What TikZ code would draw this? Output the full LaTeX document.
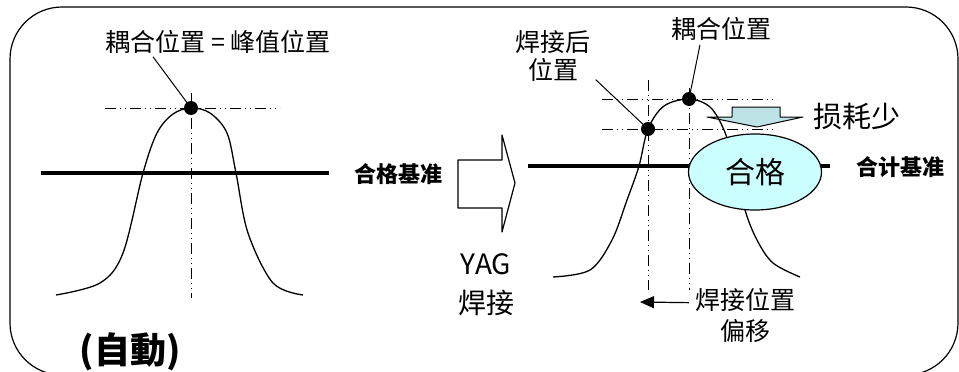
\documentclass[tikz,border=0pt]{standalone}
\usepackage{fontspec}
\setmainfont{Noto Sans CJK SC}
\usepackage{tikz}
\usetikzlibrary{arrows.meta,shapes.geometric}
\definecolor{passfill}{HTML}{CCFFFF}
\definecolor{lossfill}{HTML}{BEE3E6}

\begin{document}
\begin{tikzpicture}[x=1pt,y=-1pt,line join=round,
    dot/.style={circle,fill=black,inner sep=0pt,minimum size=14pt},
    guide/.style={line width=0.8pt,dash pattern=on 11pt off 4pt on 1pt off 4pt on 1pt off 4pt},
    leader/.style={line width=1pt},
    bar/.style={line width=4.5pt},
    curve/.style={line width=1.3pt},
    lbl/.style={inner sep=0pt,align=center,font=\fontsize{25}{28}\selectfont},
    heavy/.style={inner sep=0pt,font=\fontsize{22}{24}\selectfont\bfseries}]
  \useasboundingbox (0,0) rectangle (959,372);
  \draw[line width=1.2pt,rounded corners=52pt] (10,7) rectangle (958,375);

  % before welding
  \draw[bar] (41,173) -- (329,173);
  \draw[guide] (105,108) -- (280,108);
  \draw[guide] (191,93) -- (191,298);
  \draw[curve] plot[smooth,tension=0.55] coordinates {(56,295) (100,283) (123,253) (143,173) (157,133) (173,114) (191,108) (210,113) (227,133) (236,173) (248,233) (273,283) (303,295)};
  \node[dot] (peak_0) at (191,108) {};
  \node[lbl] (peak_lbl) at (218,42) {耦合位置 = 峰值位置};
  \draw[leader] (peak_lbl.south) ++(-65,3) coordinate (lead_0) -- (peak_0.center);
  \node[heavy] (std_0) at (398,174) {合格基准};
  \node[inner sep=0pt,font=\fontsize{36}{40}\selectfont\bfseries] (auto) at (130,352) {(自動)};

  % welding step
  \draw[line width=1.2pt] (458,160) -- (502,160) -- (502,135) -- (515,183) -- (502,232) -- (502,208) -- (458,208) -- cycle;
  \node[lbl,font=\fontsize{28}{39}\selectfont] (yag) at (486,285) {YAG\\焊接};

  % after welding
  \draw[bar] (528,166) -- (830,166);
  \draw[guide] (602,99) -- (777,99);
  \draw[guide] (602,129) -- (777,129);
  \draw[guide] (648,80) -- (648,290);
  \draw[guide] (689,88) -- (689,290);
  \draw[line width=1pt,fill=lossfill] (732,107) -- (780,107) -- (780,117) -- (803,117) -- (757,127) -- (707,117) -- (732,117) -- cycle;
  \draw[curve] plot[smooth,tension=0.55] coordinates {(553,277) (590,270) (612,240) (627,200) (639,166) (648,129) (664,106) (689,99) (710,107) (724,130) (733,160) (745,210) (757,240) (773,263) (800,277)};
  \node[ellipse,draw,line width=1.2pt,fill=passfill,minimum width=133pt,minimum height=76pt,inner sep=0pt,font=\fontsize{30}{34}\selectfont] (pass) at (755,172) {合格};
  \node[dot] (peak_1) at (689,99) {};
  \node[dot] (weld_1) at (648,129) {};
  \node[lbl] (peak_lbl1) at (721,29) {耦合位置};
  \draw[leader] (peak_lbl1.south) ++(-21,4) coordinate (lead_1) -- (peak_1.center);
  \node[lbl] (weld_lbl) at (553,56) {焊接后\\位置};
  \draw[leader] (weld_lbl.south east) ++(5,-2) coordinate (lead_2) -- (weld_1.center);
  \node[lbl,font=\fontsize{29}{33}\selectfont] (loss) at (857,117) {损耗少};
  \node[heavy] (std_1) at (900,167) {合计基准};
  \node[lbl,font=\fontsize{25}{31}\selectfont] (shift) at (745,315) {焊接位置\\偏移};
  \draw[line width=1.2pt,-{Triangle[length=14pt,width=12pt]}] (shift.north west) ++(-6,15) coordinate (shift_0) -- (640,302) coordinate (shift_1);
\end{tikzpicture}
\end{document}
